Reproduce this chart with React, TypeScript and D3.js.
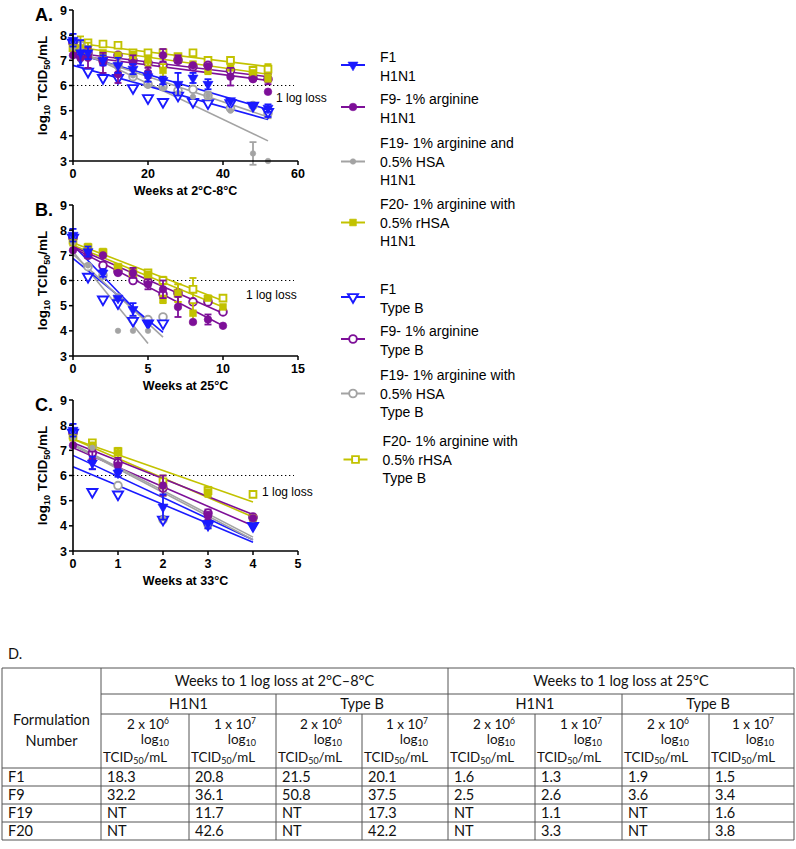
import React from 'react';
import * as d3 from 'd3';

const BLUE = '#1a1aff';
const PURPLE = '#7d0f98';
const GRAY = '#a3a3a3';
const OLIVE = '#c2c200';

// ---------- A. weeks at 2°C-8°C
const weeksA = [0, 2, 4, 8, 12, 16, 20, 24, 28, 32, 36, 42, 48, 52];
const aF1H1 = [7.8, 7.3, 7.3, 7.0, 6.8, 6.65, 6.35, 6.2, 6.05, 6.3, 6.05, 5.4, 5.2, 5.1];
const aF1H1Err = [0.25, 0.5, 0.25, 0.2, 0.3, 0.2, 0.2, 0.15, 0.45, 0.2, 0.2, 0.1, 0.1, 0.15];
const aF9H1 = [7.2, 7.1, 7.1, 6.9, 6.45, 6.9, 6.5, 7.2, 7.05, 6.8, 6.75, 6.35, 6.25, 5.75];
const aF9H1Err = [0.1, 0.1, 0.4, 0.4, 0.35, 0.3, 0.2, 0.25, 0.15, 0.1, 0.1, 0.35, 0.05, 0.05];
const aF19H1 = [7.5, 7.4, 7.3, 7.0, 6.7, 6.4, 6.0, 5.9, 5.7, 5.55, 5.6, 5.0, 3.3, 3.0];
const aF19H1Err = [0.1, 0.4, 0.1, 0.1, 0.1, 0.1, 0.1, 0.1, 0.1, 0.1, 0.15, 0.1, 0.45, 0];
const aF20H1 = [7.5, 7.5, 7.4, 7.3, 7.2, 7.2, 7.0, 6.6, 7.1, 6.85, 6.6, 6.7, 6.5, 6.3];
const aF20H1Err = [0.1, 0.45, 0.3, 0.1, 0.1, 0.15, 0.2, 0.25, 0.1, 0.1, 0.15, 0.1, 0.1, 0.15];
const aF1B = [7.7, 7.1, 6.55, 6.3, 6.3, 5.9, 5.5, 5.35, 5.6, 5.35, 5.3, 5.3, 5.2, 4.95];
const aF9B = [7.7, 7.3, 7.3, 7.0, 7.2, 7.0, 6.9, 6.8, 7.0, 6.75, 6.8, 6.6, 6.3, 6.25];
const aF19B = [7.7, 7.6, 7.2, 7.0, 6.8, 6.35, 6.05, 5.95, 5.8, 5.85, 5.6, 5.1, 5.2, 4.9];
const aF20B = [7.5, 7.6, 7.7, 7.65, 7.6, 7.3, 7.3, 7.3, 7.15, 7.3, 7.0, 7.0, 6.6, 6.65];
const aOpenErr = [0.1, 0.1, 0.1, 0.1, 0.1, 0.1, 0.1, 0.1, 0.1, 0.1, 0.1, 0.1, 0.1, 0.2];
// fitted line value at week 0 and at the last week (order: F1, F9, F19, F20 H1N1 then Type B)
const fitStartA = [7.3, 7.2, 7.5, 7.55, 6.8, 7.3, 7.35, 7.7];
const fitEndA = [5.05, 6.2, 3.8, 6.45, 4.65, 6.35, 4.75, 6.75];

// ---------- B. weeks at 25°C
const weeksB = [0, 1, 2, 3, 4, 5, 6, 7, 8, 9, 10];
const bF1H1 = [7.8, 7.15, 6.3, 5.3, 4.85, 4.3];
const bF1H1Err = [0.25, 0.2, 0.15, 0.1, 0.25, 0.1];
const bF9H1 = [7.2, 7.05, 7.0, 6.3, 6.3, 5.85, 5.65, 4.95, 4.35, 4.45, 4.2];
const bF9H1Err = [0.1, 0.15, 0.1, 0.1, 0.2, 0.2, 0.35, 0.4, 0.1, 0.2, 0.05];
const bF19H1 = [7.5, 6.6, 6.3, 4.0, 4.0, 4.0];
const bF19H1Err = [0.1, 0.1, 0.1, 0, 0, 0];
const bF20H1 = [7.5, 7.35, 7.15, 6.55, 6.35, 6.2, 5.25, 5.5, 4.7, 5.3, 4.95];
const bF20H1Err = [0.1, 0.1, 0.1, 0.1, 0.1, 0.15, 0.15, 0.35, 0.4, 0.1, 0.1];
const bF1B = [7.7, 6.15, 5.25, 5.1, 4.4, 4.3, 4.3];
const bF9B = [7.7, 7.0, 6.6, 6.35, 6.0, 5.95, 5.45, 5.5, 5.15, 5.15, 4.75];
const bF19B = [7.7, 6.55, 6.2, 5.3, 4.45, 4.45, 4.55];
const bF20B = [7.6, 7.3, 7.1, 6.5, 6.3, 6.3, 6.0, 5.5, 5.65, 5.25, 5.3];
const bOpenErr = [0.1, 0.1, 0.1, 0.1, 0.1, 0.1, 0.15, 0.35, 0.45, 0.1, 0.1];
const fitStartB = [7.41, 7.3, 7.15, 7.4, 6.88, 7.35, 7.05, 7.5];
const fitEndB = [4.31, 4.2, 3.5, 4.95, 3.94, 4.7, 3.75, 5.2];

// ---------- C. weeks at 33°C
const weeksC = [0, 0.43, 1, 2, 3, 4];
const cF1H1 = [7.8, 6.5, 6.1, 4.75, 4.1, 4.0];
const cF1H1Err = [0.25, 0.25, 0.15, 0.5, 0.1, 0.1];
const cF9H1 = [7.2, 6.6, 6.4, 5.6, 4.4, 4.3];
const cF9H1Err = [0.1, 0.35, 0.3, 0.4, 0.15, 0.1];
const cF19H1 = [7.5, 7.1, 6.3, 4.3, 4.05, 4.25];
const cF19H1Err = [0.1, 0.1, 0.1, 0.1, 0.1, 0.1];
const cF20H1 = [7.5, 7.2, 6.9, 5.6, 5.3, 4.3];
const cF20H1Err = [0.1, 0.1, 0.2, 0.4, 0.15, 0.1];
const cF1B = [7.7, 5.35, 5.25, 4.25, 4.05, 4.0];
const cF9B = [7.7, 6.9, 6.5, 5.5, 4.5, 4.35];
const cF19B = [7.7, 7.15, 5.6, 4.25, 4.05, 4.3];
const cF20B = [7.6, 7.3, 6.95, 5.75, 5.4, 5.25];
const cOpenErr = [0.1, 0.1, 0.1, 0.1, 0.15, 0.1];
const fitStartC = [6.8, 7.1, 7.2, 7.45, 6.35, 7.3, 7.25, 7.45];
const fitEndC = [3.45, 4.0, 3.45, 4.35, 3.35, 4.45, 3.55, 4.95];

const yTicks = [3, 4, 5, 6, 7, 8, 9];
const xTicksA = [0, 20, 40, 60];
const xTicksB = [0, 5, 10, 15];
const xTicksC = [0, 1, 2, 3, 4, 5];

type Shape = 'tri' | 'circle' | 'dot' | 'square';
const seriesStyle: { color: string; shape: Shape; open: boolean }[] = [
  { color: BLUE, shape: 'tri', open: false },
  { color: PURPLE, shape: 'circle', open: false },
  { color: GRAY, shape: 'dot', open: false },
  { color: OLIVE, shape: 'square', open: false },
  { color: BLUE, shape: 'tri', open: true },
  { color: PURPLE, shape: 'circle', open: true },
  { color: GRAY, shape: 'circle', open: true },
  { color: OLIVE, shape: 'square', open: true },
];

const legendLabels = [
  ['F1', 'H1N1'],
  ['F9- 1% arginine', 'H1N1'],
  ['F19- 1% arginine and', '0.5% HSA', 'H1N1'],
  ['F20- 1% arginine with', '0.5% rHSA', 'H1N1'],
  ['F1', 'Type B'],
  ['F9- 1% arginine', 'Type B'],
  ['F19- 1% arginine with', '0.5% HSA', 'Type B'],
  ['F20- 1% arginine with', '0.5% rHSA', 'Type B'],
];

// ---------- D. table
const tableRows = ['F1', 'F9', 'F19', 'F20'];
const tableValues = [
  ['18.3', '20.8', '21.5', '20.1', '1.6', '1.3', '1.9', '1.5'],
  ['32.2', '36.1', '50.8', '37.5', '2.5', '2.6', '3.6', '3.4'],
  ['NT', '11.7', 'NT', '17.3', 'NT', '1.1', 'NT', '1.6'],
  ['NT', '42.6', 'NT', '42.2', 'NT', '3.3', 'NT', '3.8'],
];
const groupHeaders = ['Weeks to 1 log loss at 2°C–8°C', 'Weeks to 1 log loss at 25°C'];
const strainHeaders = ['H1N1', 'Type B', 'H1N1', 'Type B'];
const titreHeaders = [
  ['2 x 10', '6'],
  ['1 x 10', '7'],
];

const FONT = "'Liberation Sans', Arial, sans-serif";
const TFONT = "Lato, 'Liberation Sans', sans-serif";

interface SeriesData {
  x: number[];
  y: number[];
  err: number[];
  fit: [number, number];
}

function makeSeries(weeks: number[], ys: number[][], errs: number[][], fs: number[], fe: number[]): SeriesData[] {
  return ys.map((y, i) => ({
    x: weeks.slice(0, y.length),
    y,
    err: errs[i].slice(0, y.length),
    fit: [fs[i], fe[i]],
  }));
}

const panelA = makeSeries(
  weeksA,
  [aF1H1, aF9H1, aF19H1, aF20H1, aF1B, aF9B, aF19B, aF20B],
  [aF1H1Err, aF9H1Err, aF19H1Err, aF20H1Err, aOpenErr, aOpenErr, aOpenErr, aOpenErr],
  fitStartA,
  fitEndA
);
const panelB = makeSeries(
  weeksB,
  [bF1H1, bF9H1, bF19H1, bF20H1, bF1B, bF9B, bF19B, bF20B],
  [bF1H1Err, bF9H1Err, bF19H1Err, bF20H1Err, bOpenErr.map(() => 0.1), bOpenErr.map(() => 0.1), bOpenErr.map(() => 0.1), bOpenErr],
  fitStartB,
  fitEndB
);
const panelC = makeSeries(
  weeksC,
  [cF1H1, cF9H1, cF19H1, cF20H1, cF1B, cF9B, cF19B, cF20B],
  [cF1H1Err, cF9H1Err, cF19H1Err, cF20H1Err, cOpenErr, cOpenErr, cOpenErr, cOpenErr],
  fitStartC,
  fitEndC
);

const Marker: React.FC<{ shape: Shape; open: boolean; color: string; x: number; y: number }> = ({ shape, open, color, x, y }) => {
  const type = shape === 'tri' ? d3.symbolTriangle : shape === 'square' ? d3.symbolSquare : d3.symbolCircle;
  const size = { tri: 44, square: 46, circle: 46, dot: 24 }[shape];
  const d = d3.symbol().type(type).size(size)() || '';
  return (
    <path
      d={d}
      transform={`translate(${x},${y})${shape === 'tri' ? ' rotate(180)' : ''}`}
      fill={open ? '#fff' : color}
      stroke={color}
      strokeWidth={open ? 1.9 : 0.6}
    />
  );
};

interface PanelProps {
  top: number;
  label: string;
  xMax: number;
  xTicks: number[];
  xTitle: string;
  data: SeriesData[];
  lossX: number;
  lossY: number;
}

const LEFT = 73;
const RIGHT = 298;
const PH = 151;

const Panel: React.FC<PanelProps> = ({ top, label, xMax, xTicks, xTitle, data, lossX, lossY }) => {
  const x = d3.scaleLinear().domain([0, xMax]).range([LEFT, RIGHT]);
  const y = d3.scaleLinear().domain([3, 9]).range([top + PH, top]);
  const bottom = top + PH;
  const drawOrder = [7, 6, 5, 4, 3, 2, 1, 0];
  return (
    <g fontFamily={FONT}>
      <text x={35} y={top + 11} fontSize={18} fontWeight="bold">{label}</text>
      <text
        transform={`translate(${47},${top + PH / 2}) rotate(-90)`}
        textAnchor="middle"
        fontSize={13.5}
        fontWeight="bold"
      >
        log<tspan fontSize={9} dy={3}>10</tspan>
        <tspan dy={-3}> TCID</tspan>
        <tspan fontSize={9} dy={3}>50</tspan>
        <tspan dy={-3}>/mL</tspan>
      </text>
      {/* dotted 1 log loss threshold */}
      <line x1={x(0)} x2={294} y1={y(6)} y2={y(6)} stroke="#000" strokeWidth={1.2} strokeDasharray="1.3,2.7" />
      <text x={lossX} y={lossY} fontSize={12}>1 log loss</text>
      {/* fitted lines */}
      {data.map((s, i) => (
        <line
          key={'f' + i}
          x1={x(s.x[0])}
          x2={x(s.x[s.x.length - 1])}
          y1={y(s.fit[0])}
          y2={y(s.fit[1])}
          stroke={seriesStyle[i].color}
          strokeWidth={1.6}
        />
      ))}
      {drawOrder.map((i) => {
        const s = data[i];
        const st = seriesStyle[i];
        return (
          <g key={'s' + i}>
            {s.y.map((v, j) =>
              s.err[j] > 0.12 ? (
                <g key={j} stroke={st.color} strokeWidth={1.8}>
                  <line x1={x(s.x[j])} x2={x(s.x[j])} y1={y(v - s.err[j])} y2={y(v + s.err[j])} />
                  <line x1={x(s.x[j]) - 3.5} x2={x(s.x[j]) + 3.5} y1={y(v + s.err[j])} y2={y(v + s.err[j])} />
                  <line x1={x(s.x[j]) - 3.5} x2={x(s.x[j]) + 3.5} y1={y(v - s.err[j])} y2={y(v - s.err[j])} />
                </g>
              ) : null
            )}
            {s.y.map((v, j) => (
              <Marker key={'m' + j} shape={st.shape} open={st.open} color={st.color} x={x(s.x[j])} y={y(v)} />
            ))}
          </g>
        );
      })}
      {/* axes */}
      <line x1={LEFT} x2={LEFT} y1={top} y2={bottom} stroke="#000" strokeWidth={1.6} />
      <line x1={LEFT} x2={RIGHT} y1={bottom} y2={bottom} stroke="#000" strokeWidth={1.6} />
      {yTicks.map((t) => (
        <g key={'y' + t}>
          <line x1={LEFT - 4} x2={LEFT} y1={y(t)} y2={y(t)} stroke="#000" strokeWidth={1.5} />
          <text x={LEFT - 6} y={y(t) + 4.5} textAnchor="end" fontSize={12.5} fontWeight="bold">{t}</text>
        </g>
      ))}
      {xTicks.map((t) => (
        <g key={'x' + t}>
          <line x1={x(t)} x2={x(t)} y1={bottom} y2={bottom + 4} stroke="#000" strokeWidth={1.5} />
          <text x={x(t)} y={bottom + 17} textAnchor="middle" fontSize={12.5} fontWeight="bold">{t}</text>
        </g>
      ))}
      <text x={(LEFT + RIGHT) / 2} y={bottom + 34} textAnchor="middle" fontSize={12.5} fontWeight="bold">{xTitle}</text>
    </g>
  );
};

const Legend: React.FC = () => {
  const firstLineY = [57, 99, 143, 204, 289, 331, 375, 441];
  return (
    <g fontFamily={FONT} fontSize={14}>
      {legendLabels.map((lines, i) => {
        const st = seriesStyle[i];
        const my = lines.length === 3 ? firstLineY[i] + 18.5 : firstLineY[i] + 8;
        const dx = i === 7 ? 2.5 : 0;
        return (
          <g key={i}>
            <line x1={341 + dx} x2={365 + dx} y1={my} y2={my} stroke={st.color} strokeWidth={2} />
            <Marker shape={st.shape} open={st.open} color={st.color} x={353 + dx} y={my} />
            {lines.map((l, k) => (
              <text key={k} x={380 + dx} y={firstLineY[i] + k * 18.5 + 5}>{l}</text>
            ))}
          </g>
        );
      })}
    </g>
  );
};

const Table: React.FC = () => {
  const cols = [2, 101, 189, 276, 362, 448, 535, 622, 709, 794];
  const rows = [668, 694, 714, 768, 786, 804, 822, 840];
  const line = '#555';
  const fs = 14.5;
  const hs = 13.5;
  return (
    <g fontFamily={TFONT} fontSize={fs} fill="#111">
      <text x={8} y={659}>D.</text>
      {/* horizontal rules */}
      <line x1={cols[0]} x2={cols[9]} y1={rows[0]} y2={rows[0]} stroke={line} />
      <line x1={cols[1]} x2={cols[9]} y1={rows[1]} y2={rows[1]} stroke={line} />
      <line x1={cols[1]} x2={cols[9]} y1={rows[2]} y2={rows[2]} stroke={line} />
      {rows.slice(3).map((r) => (
        <line key={r} x1={cols[0]} x2={cols[9]} y1={r} y2={r} stroke={line} />
      ))}
      {/* vertical rules */}
      {[0, 1, 5, 9].map((c) => (
        <line key={'v' + c} x1={cols[c]} x2={cols[c]} y1={rows[0]} y2={rows[7]} stroke={line} />
      ))}
      {[3, 7].map((c) => (
        <line key={'v' + c} x1={cols[c]} x2={cols[c]} y1={rows[1]} y2={rows[7]} stroke={line} />
      ))}
      {[2, 4, 6, 8].map((c) => (
        <line key={'v' + c} x1={cols[c]} x2={cols[c]} y1={rows[2]} y2={rows[7]} stroke={line} />
      ))}
      <text x={(cols[0] + cols[1]) / 2} y={725} textAnchor="middle">Formulation</text>
      <text x={(cols[0] + cols[1]) / 2} y={746} textAnchor="middle">Number</text>
      {groupHeaders.map((h, i) => (
        <text key={h} x={(cols[1 + i * 4] + cols[5 + i * 4]) / 2} y={rows[0] + 18} textAnchor="middle">{h}</text>
      ))}
      {strainHeaders.map((h, i) => (
        <text key={i} x={(cols[1 + i * 2] + cols[3 + i * 2]) / 2} y={rows[1] + 15} textAnchor="middle">{h}</text>
      ))}
      {d3.range(8).map((i) => {
        const t = titreHeaders[i % 2];
        const xr = cols[i + 2] - 20;
        return (
          <g key={'t' + i} fontSize={hs}>
            <text x={xr} y={rows[2] + 15} textAnchor="end">
              {t[0]}
              <tspan fontSize={8.5} dy={-5}>{t[1]}</tspan>
            </text>
            <text x={xr} y={rows[2] + 30} textAnchor="end">
              log<tspan fontSize={9} dy={2}>10</tspan>
            </text>
            <text x={cols[i + 1] + 2} y={rows[2] + 48} textLength={64} lengthAdjust="spacingAndGlyphs">
              TCID<tspan fontSize={9} dy={2}>50</tspan>
              <tspan dy={-2}>/mL</tspan>
            </text>
          </g>
        );
      })}
      {tableRows.map((r, i) => (
        <g key={r}>
          <text x={cols[0] + 6} y={rows[3 + i] + 14}>{r}</text>
          {tableValues[i].map((v, j) => (
            <text key={j} x={cols[j + 1] + 6} y={rows[3 + i] + 14}>{v}</text>
          ))}
        </g>
      ))}
    </g>
  );
};

export default function App() {
  return (
    <div style={{ position: 'absolute', left: 0, top: 0 }}>
      <svg width={796} height={849} style={{ display: 'block', background: '#fff' }}>
        <Panel top={10} label="A." xMax={60} xTicks={xTicksA} xTitle="Weeks at 2°C-8°C" data={panelA} lossX={276} lossY={102} />
        <Panel top={205} label="B." xMax={15} xTicks={xTicksB} xTitle="Weeks at 25°C" data={panelB} lossX={246} lossY={299} />
        <Panel top={400} label="C." xMax={5} xTicks={xTicksC} xTitle="Weeks at 33°C" data={panelC} lossX={262} lossY={496} />
        <Legend />
        <Table />
      </svg>
    </div>
  );
}
